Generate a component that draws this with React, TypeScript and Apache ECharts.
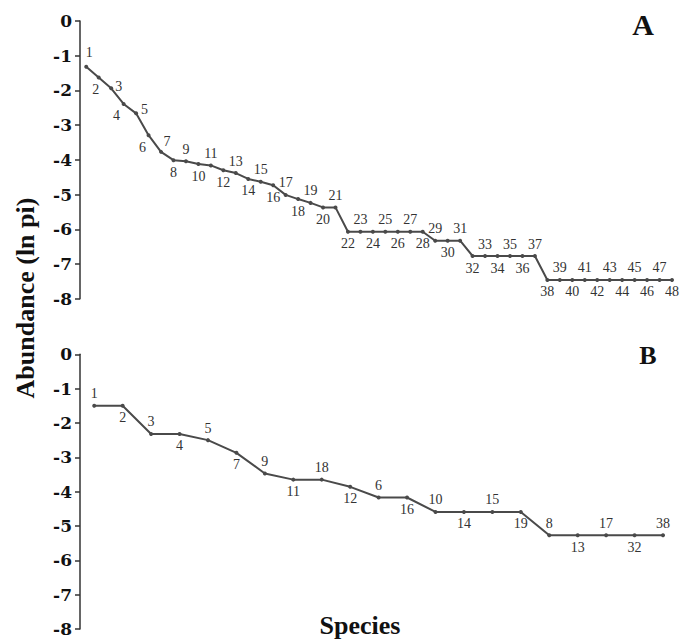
import React, { useEffect, useRef } from "react";
import * as echarts from "echarts";

// Panel A: species rank 1..48 and ln(pi)
const speciesA = [
  "1","2","3","4","5","6","7","8","9","10","11","12","13","14","15","16",
  "17","18","19","20","21","22","23","24","25","26","27","28","29","30","31","32",
  "33","34","35","36","37","38","39","40","41","42","43","44","45","46","47","48",
];
const abundanceA = [
  -1.32, -1.63, -1.94, -2.39, -2.66, -3.29, -3.77, -4.01, -4.04, -4.12, -4.16, -4.30,
  -4.38, -4.55, -4.63, -4.73, -5.01, -5.13, -5.24, -5.37, -5.37, -6.07, -6.07, -6.07,
  -6.07, -6.07, -6.07, -6.07, -6.33, -6.33, -6.33, -6.77, -6.77, -6.77, -6.77, -6.77,
  -6.77, -7.46, -7.46, -7.46, -7.46, -7.46, -7.46, -7.46, -7.46, -7.46, -7.46, -7.46,
];

// Panel B: species ids in rank order and ln(pi)
const speciesB = [
  "1","2","3","4","5","7","9","11","18","12","6","16","10","14","15","19","8","13","17","32","38",
];
const abundanceB = [
  -1.50, -1.50, -2.32, -2.32, -2.50, -2.87, -3.47, -3.65, -3.65, -3.86, -4.17, -4.17,
  -4.59, -4.59, -4.59, -4.59, -5.27, -5.27, -5.27, -5.27, -5.27,
];

const yTicks = { min: -8, max: 0, interval: 1 };

// label placement tweaks for the steep start of panel A (style only)
const tweaksA: Record<number, { position: string; offset: number[] }> = {
  0: { position: "top", offset: [3, -2] },
  1: { position: "bottom", offset: [-3, 0] },
  2: { position: "right", offset: [-1, -2] },
  3: { position: "bottom", offset: [-7, 0] },
  4: { position: "right", offset: [0, -4] },
  5: { position: "bottom", offset: [-6, 0] },
  6: { position: "top", offset: [6, 2] },
};

const serif = "'Liberation Serif', 'Times New Roman', serif";
const lineColor = "#4a4a4a";

function buildData(names: string[], values: number[], tweaks: Record<number, any>) {
  return values.map((v, i) => {
    const t = tweaks[i];
    const position = t ? t.position : i % 2 === 0 ? "top" : "bottom";
    return {
      value: [i + 1, v],
      label: {
        show: true,
        formatter: names[i],
        position,
        offset: t ? t.offset : [0, 0],
        distance: 3,
        color: "#333",
        fontFamily: serif,
        fontSize: 14,
      },
    };
  });
}

const yAxisBase = (gridIndex: number) => ({
  type: "value",
  gridIndex,
  min: yTicks.min,
  max: yTicks.max,
  interval: yTicks.interval,
  axisLine: { show: true, lineStyle: { color: "#333", width: 1.5 } },
  axisTick: { show: true, length: 5, inside: false, lineStyle: { color: "#333", width: 1.5 } },
  splitLine: { show: false },
  axisLabel: {
    margin: 8,
    color: "#111",
    fontFamily: "'DejaVu Serif', serif",
    fontWeight: "bold",
    fontSize: 17,
  },
});

export default function App() {
  const ref = useRef<HTMLDivElement>(null);
  useEffect(() => {
    document.body.style.margin = "0";
    if (!ref.current) return;
    const chart = echarts.init(ref.current, null, { renderer: "svg" });
    chart.setOption({
      animation: false,
      backgroundColor: "#fff",
      grid: [
        { left: 80, top: 21, width: 592, height: 277.7 },
        { left: 80, top: 354.3, width: 583, height: 274.7 },
      ],
      xAxis: [
        { type: "value", gridIndex: 0, min: 0.5, max: 48, show: false },
        { type: "value", gridIndex: 1, min: 0.5, max: 21, show: false },
      ],
      yAxis: [yAxisBase(0), yAxisBase(1)],
      series: [
        {
          type: "line",
          xAxisIndex: 0,
          yAxisIndex: 0,
          data: buildData(speciesA, abundanceA, tweaksA),
          symbol: "circle",
          symbolSize: 4,
          itemStyle: { color: lineColor },
          lineStyle: { color: lineColor, width: 2 },
        },
        {
          type: "line",
          xAxisIndex: 1,
          yAxisIndex: 1,
          data: buildData(speciesB, abundanceB, {}),
          symbol: "circle",
          symbolSize: 4,
          itemStyle: { color: lineColor },
          lineStyle: { color: lineColor, width: 2 },
        },
      ],
      graphic: [
        {
          type: "text",
          x: 25,
          y: 298,
          rotation: Math.PI / 2,
          style: {
            text: "Abundance (ln pi)",
            fontFamily: serif,
            fontWeight: "bold",
            fontSize: 26,
            fill: "#111",
            align: "center",
            verticalAlign: "middle",
          },
        },
        {
          type: "text",
          x: 360,
          y: 625,
          style: {
            text: "Species",
            fontFamily: serif,
            fontWeight: "bold",
            fontSize: 26,
            fill: "#111",
            align: "center",
            verticalAlign: "middle",
          },
        },
        {
          type: "text",
          x: 643,
          y: 24,
          style: {
            text: "A",
            fontFamily: serif,
            fontWeight: "bold",
            fontSize: 30,
            fill: "#111",
            align: "center",
            verticalAlign: "middle",
          },
        },
        {
          type: "text",
          x: 648,
          y: 355,
          style: {
            text: "B",
            fontFamily: serif,
            fontWeight: "bold",
            fontSize: 26,
            fill: "#111",
            align: "center",
            verticalAlign: "middle",
          },
        },
      ],
    });
    return () => chart.dispose();
  }, []);
  return <div ref={ref} style={{ width: 681, height: 640 }} />;
}
